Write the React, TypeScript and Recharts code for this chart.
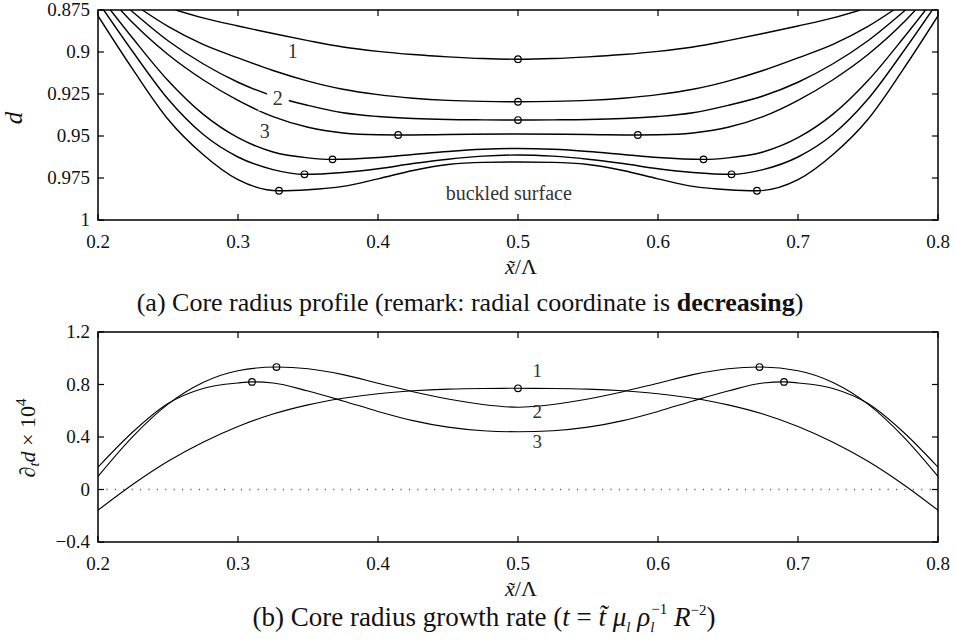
import { ComposedChart, Line, Scatter, XAxis, YAxis, ReferenceArea, ReferenceLine, ReferenceDot } from "recharts";

const FONT = "'Liberation Serif', 'Times New Roman', serif";
const PLOT_W = 840;
const PLOT_H = 210;

const xTicks = [0.2, 0.3, 0.4, 0.5, 0.6, 0.7, 0.8];
const dTicks = [0.875, 0.9, 0.925, 0.95, 0.975, 1];
const rateTicks = [-0.4, 0, 0.4, 0.8, 1.2];

// (a) core radius profiles, from the top curve down to the buckled surface
const profileA = [
  { x: 0.2554, y: 0.875 }, { x: 0.275, y: 0.8797 }, { x: 0.3, y: 0.8845 }, { x: 0.325, y: 0.889 },
  { x: 0.35, y: 0.8932 }, { x: 0.375, y: 0.897 }, { x: 0.4, y: 0.8996 }, { x: 0.425, y: 0.9015 },
  { x: 0.45, y: 0.9029 }, { x: 0.475, y: 0.9039 }, { x: 0.5, y: 0.9043 }, { x: 0.525, y: 0.9039 },
  { x: 0.55, y: 0.9029 }, { x: 0.575, y: 0.9015 }, { x: 0.6, y: 0.8996 }, { x: 0.625, y: 0.897 },
  { x: 0.65, y: 0.8932 }, { x: 0.675, y: 0.889 }, { x: 0.7, y: 0.8845 }, { x: 0.725, y: 0.8797 },
  { x: 0.7446, y: 0.875 },
];
const profileB = [
  { x: 0.2316, y: 0.875 }, { x: 0.25, y: 0.8848 }, { x: 0.275, y: 0.8955 }, { x: 0.3, y: 0.9035 },
  { x: 0.325, y: 0.911 }, { x: 0.35, y: 0.9173 }, { x: 0.375, y: 0.9222 }, { x: 0.4, y: 0.9254 },
  { x: 0.425, y: 0.9275 }, { x: 0.45, y: 0.9288 }, { x: 0.475, y: 0.9294 }, { x: 0.5, y: 0.9296 },
  { x: 0.525, y: 0.9294 }, { x: 0.55, y: 0.9288 }, { x: 0.575, y: 0.9275 }, { x: 0.6, y: 0.9254 },
  { x: 0.625, y: 0.9222 }, { x: 0.65, y: 0.9173 }, { x: 0.675, y: 0.911 }, { x: 0.7, y: 0.9035 },
  { x: 0.725, y: 0.8955 }, { x: 0.75, y: 0.8848 }, { x: 0.7684, y: 0.875 },
];
const profileC = [
  { x: 0.2232, y: 0.875 }, { x: 0.25, y: 0.8933 }, { x: 0.275, y: 0.907 }, { x: 0.3, y: 0.918 },
  { x: 0.325, y: 0.9262 }, { x: 0.35, y: 0.9318 }, { x: 0.375, y: 0.9362 }, { x: 0.4, y: 0.9384 },
  { x: 0.425, y: 0.9396 }, { x: 0.45, y: 0.9402 }, { x: 0.475, y: 0.9404 }, { x: 0.5, y: 0.9405 },
  { x: 0.525, y: 0.9404 }, { x: 0.55, y: 0.9402 }, { x: 0.575, y: 0.9396 }, { x: 0.6, y: 0.9384 },
  { x: 0.625, y: 0.9362 }, { x: 0.65, y: 0.9318 }, { x: 0.675, y: 0.9262 }, { x: 0.7, y: 0.918 },
  { x: 0.725, y: 0.907 }, { x: 0.75, y: 0.8933 }, { x: 0.7768, y: 0.875 },
];
const profileD = [
  { x: 0.2161, y: 0.875 }, { x: 0.225, y: 0.8828 }, { x: 0.25, y: 0.9015 }, { x: 0.275, y: 0.9165 },
  { x: 0.3, y: 0.9288 }, { x: 0.325, y: 0.9385 }, { x: 0.35, y: 0.9448 }, { x: 0.375, y: 0.9482 },
  { x: 0.4, y: 0.9493 }, { x: 0.4144, y: 0.9494 }, { x: 0.45, y: 0.9491 }, { x: 0.5, y: 0.9488 },
  { x: 0.55, y: 0.9491 }, { x: 0.5856, y: 0.9494 }, { x: 0.6, y: 0.9493 }, { x: 0.625, y: 0.9482 },
  { x: 0.65, y: 0.9448 }, { x: 0.675, y: 0.9385 }, { x: 0.7, y: 0.9288 }, { x: 0.725, y: 0.9165 },
  { x: 0.75, y: 0.9015 }, { x: 0.775, y: 0.8828 }, { x: 0.7839, y: 0.875 },
];
const profileE = [
  { x: 0.2089, y: 0.875 }, { x: 0.225, y: 0.892 }, { x: 0.25, y: 0.917 }, { x: 0.275, y: 0.937 },
  { x: 0.3, y: 0.951 }, { x: 0.325, y: 0.9595 }, { x: 0.35, y: 0.963 }, { x: 0.3675, y: 0.9639 },
  { x: 0.4, y: 0.9628 }, { x: 0.425, y: 0.961 }, { x: 0.45, y: 0.9592 }, { x: 0.475, y: 0.9579 },
  { x: 0.5, y: 0.9574 }, { x: 0.525, y: 0.9579 }, { x: 0.55, y: 0.9592 }, { x: 0.575, y: 0.961 },
  { x: 0.6, y: 0.9628 }, { x: 0.6325, y: 0.9639 }, { x: 0.65, y: 0.963 }, { x: 0.675, y: 0.9595 },
  { x: 0.7, y: 0.951 }, { x: 0.725, y: 0.937 }, { x: 0.75, y: 0.917 }, { x: 0.775, y: 0.892 },
  { x: 0.7911, y: 0.875 },
];
const profileF = [
  { x: 0.2041, y: 0.875 }, { x: 0.225, y: 0.9 }, { x: 0.25, y: 0.928 }, { x: 0.275, y: 0.949 },
  { x: 0.3, y: 0.9625 }, { x: 0.325, y: 0.97 }, { x: 0.3475, y: 0.9728 }, { x: 0.375, y: 0.9717 },
  { x: 0.4, y: 0.9695 }, { x: 0.425, y: 0.9664 }, { x: 0.45, y: 0.9638 }, { x: 0.475, y: 0.962 },
  { x: 0.5, y: 0.9613 }, { x: 0.525, y: 0.962 }, { x: 0.55, y: 0.9638 }, { x: 0.575, y: 0.9664 },
  { x: 0.6, y: 0.9695 }, { x: 0.625, y: 0.9717 }, { x: 0.6525, y: 0.9728 }, { x: 0.675, y: 0.97 },
  { x: 0.7, y: 0.9625 }, { x: 0.725, y: 0.949 }, { x: 0.75, y: 0.928 }, { x: 0.775, y: 0.9 },
  { x: 0.7959, y: 0.875 },
];
const profileG = [
  { x: 0.2, y: 0.8785 }, { x: 0.225, y: 0.9105 }, { x: 0.25, y: 0.94 }, { x: 0.275, y: 0.961 },
  { x: 0.3, y: 0.976 }, { x: 0.3293, y: 0.9826 }, { x: 0.35, y: 0.982 }, { x: 0.375, y: 0.98 },
  { x: 0.4, y: 0.9755 }, { x: 0.425, y: 0.9705 }, { x: 0.45, y: 0.967 }, { x: 0.475, y: 0.9657 },
  { x: 0.5, y: 0.9655 }, { x: 0.525, y: 0.9657 }, { x: 0.55, y: 0.967 }, { x: 0.575, y: 0.9705 },
  { x: 0.6, y: 0.9755 }, { x: 0.625, y: 0.98 }, { x: 0.65, y: 0.982 }, { x: 0.6707, y: 0.9826 },
  { x: 0.7, y: 0.976 }, { x: 0.725, y: 0.961 }, { x: 0.75, y: 0.94 }, { x: 0.775, y: 0.9105 },
  { x: 0.8, y: 0.8785 },
];
const profileMarks = [
  { x: 0.5, y: 0.9043 }, { x: 0.5, y: 0.9296 }, { x: 0.5, y: 0.9405 },
  { x: 0.4144, y: 0.9494 }, { x: 0.5856, y: 0.9494 },
  { x: 0.3675, y: 0.9639 }, { x: 0.6325, y: 0.9639 },
  { x: 0.3475, y: 0.9728 }, { x: 0.6525, y: 0.9728 },
  { x: 0.3293, y: 0.9826 }, { x: 0.6707, y: 0.9826 },
];

// (b) growth rate, d_t d x 10^4
const rate1 = [
  { x: 0.2, y: -0.158 }, { x: 0.225, y: 0.04 }, { x: 0.25, y: 0.215 }, { x: 0.275, y: 0.36 },
  { x: 0.3, y: 0.48 }, { x: 0.325, y: 0.575 }, { x: 0.35, y: 0.645 }, { x: 0.375, y: 0.695 },
  { x: 0.4, y: 0.73 }, { x: 0.425, y: 0.752 }, { x: 0.45, y: 0.765 }, { x: 0.475, y: 0.77 },
  { x: 0.5, y: 0.771 }, { x: 0.525, y: 0.77 }, { x: 0.55, y: 0.765 }, { x: 0.575, y: 0.752 },
  { x: 0.6, y: 0.73 }, { x: 0.625, y: 0.695 }, { x: 0.65, y: 0.645 }, { x: 0.675, y: 0.575 },
  { x: 0.7, y: 0.48 }, { x: 0.725, y: 0.36 }, { x: 0.75, y: 0.215 }, { x: 0.775, y: 0.04 },
  { x: 0.8, y: -0.158 },
];
const rate2 = [
  { x: 0.2, y: 0.1 }, { x: 0.225, y: 0.405 }, { x: 0.25, y: 0.65 }, { x: 0.275, y: 0.815 },
  { x: 0.3, y: 0.905 }, { x: 0.3275, y: 0.933 }, { x: 0.35, y: 0.92 }, { x: 0.375, y: 0.875 },
  { x: 0.4, y: 0.81 }, { x: 0.425, y: 0.745 }, { x: 0.45, y: 0.69 }, { x: 0.475, y: 0.648 },
  { x: 0.5, y: 0.627 }, { x: 0.525, y: 0.648 }, { x: 0.55, y: 0.69 }, { x: 0.575, y: 0.745 },
  { x: 0.6, y: 0.81 }, { x: 0.625, y: 0.875 }, { x: 0.65, y: 0.92 }, { x: 0.6725, y: 0.933 },
  { x: 0.7, y: 0.905 }, { x: 0.725, y: 0.815 }, { x: 0.75, y: 0.65 }, { x: 0.775, y: 0.405 },
  { x: 0.8, y: 0.1 },
];
const rate3 = [
  { x: 0.2, y: 0.17 }, { x: 0.225, y: 0.44 }, { x: 0.25, y: 0.655 }, { x: 0.275, y: 0.77 },
  { x: 0.3, y: 0.812 }, { x: 0.31, y: 0.82 }, { x: 0.325, y: 0.812 }, { x: 0.35, y: 0.75 },
  { x: 0.375, y: 0.675 }, { x: 0.4, y: 0.595 }, { x: 0.425, y: 0.525 }, { x: 0.45, y: 0.475 },
  { x: 0.475, y: 0.448 }, { x: 0.5, y: 0.44 }, { x: 0.525, y: 0.448 }, { x: 0.55, y: 0.475 },
  { x: 0.575, y: 0.525 }, { x: 0.6, y: 0.595 }, { x: 0.625, y: 0.675 }, { x: 0.65, y: 0.75 },
  { x: 0.675, y: 0.812 }, { x: 0.69, y: 0.82 }, { x: 0.7, y: 0.812 }, { x: 0.725, y: 0.77 },
  { x: 0.75, y: 0.655 }, { x: 0.775, y: 0.44 }, { x: 0.8, y: 0.17 },
];
const rateMarks = [
  { x: 0.5, y: 0.771 }, { x: 0.3275, y: 0.933 }, { x: 0.6725, y: 0.933 },
  { x: 0.31, y: 0.82 }, { x: 0.69, y: 0.82 },
];

const profiles = [profileA, profileB, profileC, profileD, profileE, profileF, profileG];
const rates = [rate1, rate2, rate3];

function fmt(v: number) {
  return v < 0 ? "\u2212" + Math.abs(v) : String(v);
}

function XTick({ x, y, payload }: any) {
  return (
    <g>
      <line x1={x} y1={y} x2={x} y2={y - 6} stroke="#000" strokeWidth={1.2} />
      <line x1={x} y1={y - PLOT_H} x2={x} y2={y - PLOT_H + 6} stroke="#000" strokeWidth={1.2} />
      <text x={x} y={y + 28} textAnchor="middle" fontFamily={FONT} fontSize={19} fill="#111">
        {fmt(payload.value)}
      </text>
    </g>
  );
}

function YTick({ x, y, payload }: any) {
  return (
    <g>
      <line x1={x} y1={y} x2={x + 6} y2={y} stroke="#000" strokeWidth={1.2} />
      <line x1={x + PLOT_W} y1={y} x2={x + PLOT_W - 6} y2={y} stroke="#000" strokeWidth={1.2} />
      <text x={x - 8} y={y} dy="0.34em" textAnchor="end" fontFamily={FONT} fontSize={19} fill="#111">
        {fmt(payload.value)}
      </text>
    </g>
  );
}

function XLabel({ viewBox, which }: any) {
  const cx = viewBox.x + viewBox.width / 2;
  const top = viewBox.y;
  return (
    <g fontFamily={FONT} fill="#111">
      <text x={cx + 3} y={top + 54} textAnchor="middle" fontSize={22}>
        <tspan fontStyle="italic">{"x\u0303"}</tspan>
        {"/\u039B"}
      </text>
      {which === "a" ? (
        <text x={470} y={top + 91} textAnchor="middle" fontSize={26}>
          {"(a) Core radius profile (remark: radial coordinate is "}
          <tspan fontWeight="bold">decreasing</tspan>
          {")"}
        </text>
      ) : (
        <text x={484} y={top + 84} textAnchor="middle" fontSize={27}>
          {"(b) Core radius growth rate ("}
          <tspan fontStyle="italic">t</tspan>
          {" = "}
          <tspan fontStyle="italic">{"t\u0303"}</tspan>
          {" "}
          <tspan fontStyle="italic">{"\u03BC"}</tspan>
          <tspan fontStyle="italic" fontSize={15} dy={6}>l</tspan>
          <tspan dy={-6}>{" "}</tspan>
          <tspan fontStyle="italic">{"\u03C1"}</tspan>
          <tspan fontStyle="italic" fontSize={15} dy={6}>l</tspan>
          <tspan fontSize={15} dx={-3} dy={-18}>{"\u22121"}</tspan>
          <tspan dy={12}>{" "}</tspan>
          <tspan fontStyle="italic">R</tspan>
          <tspan fontSize={15} dy={-11}>{"\u22122"}</tspan>
          <tspan dy={11}>)</tspan>
        </text>
      )}
    </g>
  );
}

function YLabelD({ viewBox }: any) {
  const cy = viewBox.y + viewBox.height / 2 + 3;
  const cx = 22;
  return (
    <text x={cx} y={cy} transform={`rotate(-90 ${cx} ${cy})`} textAnchor="middle" fontFamily={FONT} fontSize={25} fontStyle="italic" fill="#111">
      d
    </text>
  );
}

function YLabelRate({ viewBox }: any) {
  const cy = viewBox.y + viewBox.height / 2 + 1;
  const cx = 35;
  return (
    <text x={cx} y={cy} transform={`rotate(-90 ${cx} ${cy})`} textAnchor="middle" fontFamily={FONT} fontSize={22} fill="#111">
      {"\u2202"}
      <tspan fontStyle="italic" fontSize={15} dy={4}>t</tspan>
      <tspan fontStyle="italic" dy={-4}>d</tspan>
      {" \u00D7 10"}
      <tspan fontSize={15} dy={-9}>4</tspan>
    </text>
  );
}

function Tag({ viewBox, text, halo, size }: any) {
  const cx = viewBox.x + viewBox.width / 2;
  const cy = viewBox.y + viewBox.height / 2;
  return (
    <text
      x={cx}
      y={cy}
      dy="0.35em"
      textAnchor="middle"
      fontFamily={FONT}
      fontSize={size || 20}
      fill="#333"
      stroke={halo ? "#fff" : "none"}
      strokeWidth={halo ? 14 : 0}
      paintOrder="stroke"
    >
      {text}
    </text>
  );
}

const ring = (p: any) => <circle cx={p.cx} cy={p.cy} r={3.3} fill="none" stroke="#000" strokeWidth={1.2} />;

export default function App() {
  return (
    <div style={{ position: "absolute", left: 0, top: 0, width: 956, height: 644, background: "#fff" }}>
      <div style={{ position: "absolute", left: 0, top: 0 }}>
        <ComposedChart width={956} height={322} margin={{ top: 10, right: 18, bottom: 0, left: 0 }}>
          <XAxis
            type="number"
            dataKey="x"
            domain={[0.2, 0.8]}
            ticks={xTicks}
            interval={0}
            allowDataOverflow
            axisLine={false}
            tickLine={false}
            tickSize={0}
            tickMargin={0}
            height={102}
            tick={<XTick />}
            label={<XLabel which="a" />}
          />
          <YAxis
            type="number"
            dataKey="y"
            domain={[0.875, 1]}
            reversed
            ticks={dTicks}
            interval={0}
            allowDataOverflow
            axisLine={false}
            tickLine={false}
            tickSize={0}
            tickMargin={0}
            width={98}
            tick={<YTick />}
            label={<YLabelD />}
          />
          {profiles.map((p, i) => (
            <Line key={i} data={p} dataKey="y" type="monotone" stroke="#000" strokeWidth={1.4} dot={false} isAnimationActive={false} />
          ))}
          <Scatter data={profileMarks} dataKey="y" shape={ring} isAnimationActive={false} />
          <ReferenceArea x1={0.2} x2={0.8} y1={0.875} y2={1} fill="none" stroke="#000" strokeWidth={1.5} />
          <ReferenceDot x={0.3391} y={0.8992} r={0} fill="none" stroke="none" label={<Tag text="1" />} />
          <ReferenceDot x={0.3284} y={0.9272} r={0} fill="none" stroke="none" label={<Tag text="2" halo />} />
          <ReferenceDot x={0.3191} y={0.947} r={0} fill="none" stroke="none" label={<Tag text="3" />} />
          <ReferenceDot x={0.4934} y={0.9841} r={0} fill="none" stroke="none" label={<Tag text="buckled surface" size={20} />} />
        </ComposedChart>
      </div>
      <div style={{ position: "absolute", left: 0, top: 322 }}>
        <ComposedChart width={956} height={322} margin={{ top: 10, right: 18, bottom: 0, left: 0 }}>
          <XAxis
            type="number"
            dataKey="x"
            domain={[0.2, 0.8]}
            ticks={xTicks}
            interval={0}
            allowDataOverflow
            axisLine={false}
            tickLine={false}
            tickSize={0}
            tickMargin={0}
            height={102}
            tick={<XTick />}
            label={<XLabel which="b" />}
          />
          <YAxis
            type="number"
            dataKey="y"
            domain={[-0.4, 1.2]}
            ticks={rateTicks}
            interval={0}
            allowDataOverflow
            axisLine={false}
            tickLine={false}
            tickSize={0}
            tickMargin={0}
            width={98}
            tick={<YTick />}
            label={<YLabelRate />}
          />
          <ReferenceLine y={0} stroke="#666" strokeWidth={1.4} strokeDasharray="1.2 7.2" />
          {rates.map((p, i) => (
            <Line key={i} data={p} dataKey="y" type="monotone" stroke="#000" strokeWidth={1.1} dot={false} isAnimationActive={false} />
          ))}
          <Scatter data={rateMarks} dataKey="y" shape={ring} isAnimationActive={false} />
          <ReferenceArea x1={0.2} x2={0.8} y1={-0.4} y2={1.2} fill="none" stroke="#000" strokeWidth={1.5} />
          <ReferenceDot x={0.5137} y={0.907} r={0} fill="none" stroke="none" label={<Tag text="1" size={19} />} />
          <ReferenceDot x={0.5137} y={0.593} r={0} fill="none" stroke="none" label={<Tag text="2" size={19} />} />
          <ReferenceDot x={0.5137} y={0.364} r={0} fill="none" stroke="none" label={<Tag text="3" size={19} />} />
        </ComposedChart>
      </div>
    </div>
  );
}
